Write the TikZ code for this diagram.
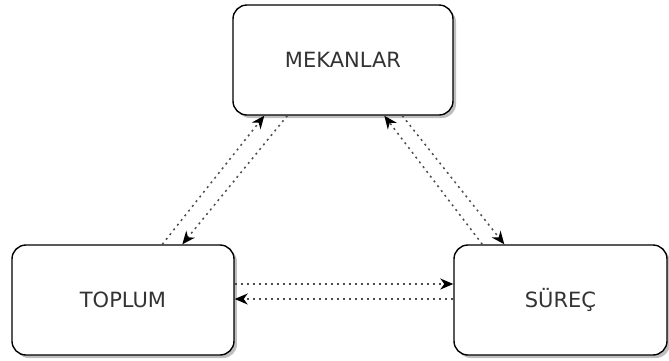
\documentclass[tikz,border=0pt]{standalone}
\usepackage{fontspec}
\setmainfont{DejaVu Sans}
\usepackage{tikz}
\usetikzlibrary{arrows.meta, shadows}
\definecolor{labelgray}{HTML}{333333}
\tikzstyle{block} = [rectangle, rounded corners=14pt, minimum width=220pt, minimum height=110pt, text centered, draw=black, line width=1.4pt, fill=white, text=labelgray, font=\fontsize{21}{25}\selectfont, drop shadow={shadow xshift=3pt, shadow yshift=-3pt, opacity=0.25, fill=black}]
\tikzstyle{link} = [line width=1.5pt, draw=black!70, dash pattern=on 2pt off 4pt, -{Stealth[length=13pt, width=11pt, inset=4pt, color=black]}]

\begin{document}
\begin{tikzpicture}[node distance=240pt]
\useasboundingbox (-343pt,60pt) rectangle (326pt,-300pt);
\node (mekan) [block] {MEKANLAR};
\node (toplum) [block, below of=mekan, xshift=-220pt, minimum width=222pt] {TOPLUM};
\node (surec) [block, below of=mekan, xshift=217.5pt, minimum width=213pt] {SÜREÇ};

\draw [link] ([xshift=151pt]toplum.north west) -- ([xshift=32pt]mekan.south west);
\draw [link] ([xshift=55pt]mekan.south west) -- ([xshift=171pt]toplum.north west);
\draw [link] ([xshift=29pt]surec.north west) -- ([xshift=152pt]mekan.south west);
\draw [link] ([xshift=170pt]mekan.south west) -- ([xshift=51pt]surec.north west);
\draw [link] ([yshift=16pt]toplum.east) -- ([yshift=16pt]surec.west);
\draw [link] ([yshift=1pt]surec.west) -- ([yshift=1pt]toplum.east);
\end{tikzpicture}
\end{document}
